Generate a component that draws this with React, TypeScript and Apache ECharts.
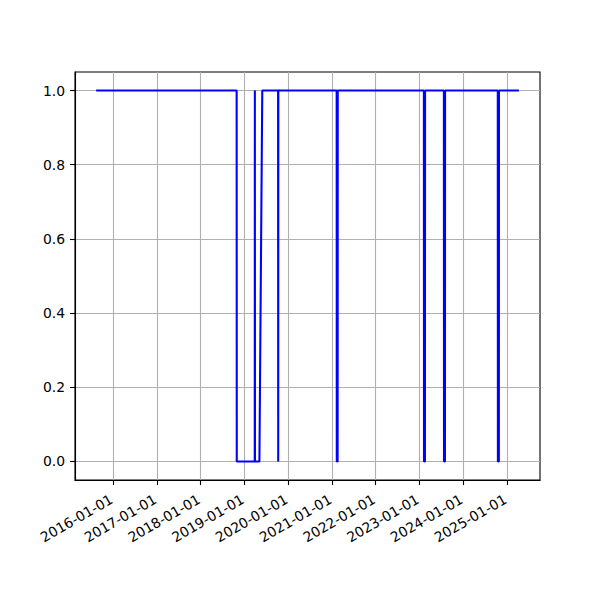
import React, { useEffect, useRef } from 'react';
import * as echarts from 'echarts';

// Observation dates and the 0/1 value recorded at each
const dates = [
  '2015-08-12', '2018-10-28', '2018-10-29', '2019-03-28', '2019-03-29', '2019-03-30',
  '2019-05-06', '2019-05-30', '2019-10-09', '2019-10-10', '2019-10-11',
  '2021-02-09', '2021-02-10', '2021-02-17', '2021-02-18',
  '2023-02-07', '2023-02-08', '2023-02-16', '2023-02-17',
  '2023-07-24', '2023-07-25', '2023-08-02', '2023-08-03',
  '2024-10-16', '2024-10-17', '2024-10-25', '2024-10-26',
  '2025-04-10',
];
const values = [
  1, 1, 0, 0, 1, 0,
  0, 1, 1, 0, 1,
  1, 0, 0, 1,
  1, 0, 0, 1,
  1, 0, 0, 1,
  1, 0, 0, 1,
  1,
];
const xTickLabels = [
  '2016-01-01', '2017-01-01', '2018-01-01', '2019-01-01', '2020-01-01',
  '2021-01-01', '2022-01-01', '2023-01-01', '2024-01-01', '2025-01-01',
];
const yTicks = [0, 0.2, 0.4, 0.6, 0.8, 1.0];

const toTs = (d: string) => Date.parse(d + 'T00:00:00Z');

export default function App() {
  const ref = useRef<HTMLDivElement>(null);
  useEffect(() => {
    const chart = echarts.init(ref.current!, null, { renderer: 'svg' });
    const ts = dates.map(toTs);
    const t0 = Math.min(...ts);
    const t1 = Math.max(...ts);
    const pad = (t1 - t0) * 0.05;
    const xTicks = xTickLabels.map(toTs);
    const font = 'DejaVu Sans';
    chart.setOption({
      animation: false,
      backgroundColor: '#ffffff',
      grid: {
        left: 75,
        right: 60,
        top: 72,
        bottom: 120,
        show: true,
        borderColor: '#000000',
        borderWidth: 1.1,
        backgroundColor: 'transparent',
        containLabel: false,
        outerBoundsMode: 'none',
      },
      xAxis: {
        type: 'value',
        min: t0 - pad,
        max: t1 + pad,
        axisLine: { show: true, onZero: false, lineStyle: { color: '#000000', width: 1.1 } },
        axisTick: {
          show: true,
          inside: false,
          length: 5,
          customValues: xTicks,
          lineStyle: { color: '#000000', width: 1.1 },
        },
        axisLabel: {
          customValues: xTicks,
          rotate: 30,
          margin: 17,
          padding: [0, 2, 0, 0],
          color: '#000000',
          fontFamily: font,
          fontSize: 13.9,
          formatter: (v: number) => new Date(v).toISOString().slice(0, 10),
        },
        splitLine: { show: true, lineStyle: { color: '#b0b0b0', width: 1.1 } },
      },
      yAxis: {
        type: 'value',
        min: -0.05,
        max: 1.05,
        axisLine: { show: true, onZero: false, lineStyle: { color: '#000000', width: 1.1 } },
        axisTick: {
          show: true,
          inside: false,
          length: 5,
          customValues: yTicks,
          lineStyle: { color: '#000000', width: 1.1 },
        },
        axisLabel: {
          customValues: yTicks,
          margin: 10,
          color: '#000000',
          fontFamily: font,
          fontSize: 13.9,
          formatter: (v: number) => v.toFixed(1),
        },
        splitLine: { show: true, lineStyle: { color: '#b0b0b0', width: 1.1 } },
      },
      series: [
        {
          type: 'line',
          data: ts.map((t, i) => [t, values[i]]),
          showSymbol: false,
          symbol: 'none',
          lineStyle: { color: '#0000ff', width: 2.08 },
          itemStyle: { color: '#0000ff' },
        },
      ],
    });
    return () => chart.dispose();
  }, []);
  return (
    <div
      ref={ref}
      style={{ position: 'fixed', left: 0, top: 0, width: 600, height: 600 }}
    />
  );
}
